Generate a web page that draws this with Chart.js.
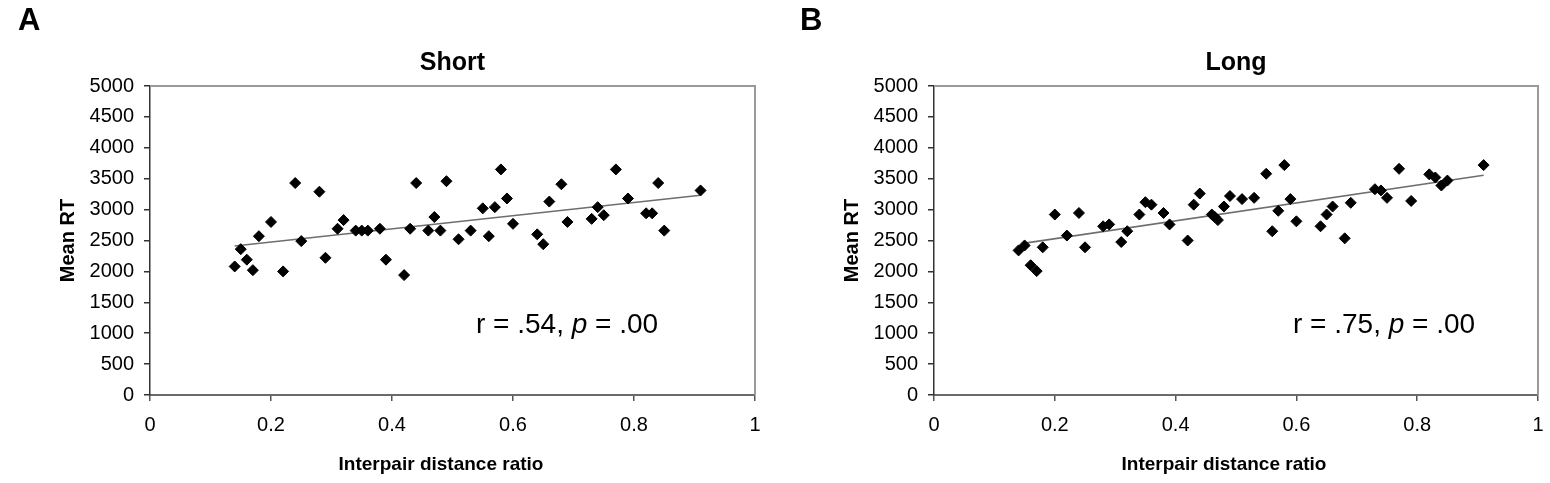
<!DOCTYPE html>
<html>
<head>
<meta charset="utf-8">
<script src="https://cdn.jsdelivr.net/npm/chart.js@4.4.1/dist/chart.umd.min.js"></script>
<style>
  body { margin: 0; background: #fff; }
  #wrap { position: relative; width: 1550px; height: 483px; }
  canvas { position: absolute; top: 0; }
</style>
</head>
<body>
<div id="wrap">
  <canvas id="short-chart" width="767" height="483" style="left:0px"></canvas>
  <canvas id="long-chart" width="766" height="483" style="left:784px"></canvas>
</div>
<script>
// Short condition (panel A)
const shortX = [0.14, 0.15, 0.16, 0.17, 0.18, 0.20, 0.22, 0.24, 0.25, 0.28, 0.29, 0.31, 0.32, 0.34, 0.35, 0.36,
  0.38, 0.39, 0.42, 0.43, 0.44, 0.46, 0.47, 0.48, 0.49, 0.51, 0.53, 0.55, 0.56, 0.57, 0.58, 0.59, 0.60,
  0.64, 0.65, 0.66, 0.68, 0.69, 0.73, 0.74, 0.75, 0.77, 0.79, 0.82, 0.83, 0.84, 0.85, 0.91];
const shortY = [2080, 2360, 2190, 2020, 2570, 2800, 2000, 3430, 2490, 3290, 2220, 2690, 2830, 2660, 2660, 2660,
  2690, 2190, 1940, 2690, 3430, 2660, 2880, 2660, 3460, 2520, 2660, 3020, 2570, 3040, 3650, 3180, 2770,
  2600, 2440, 3130, 3410, 2800, 2850, 3040, 2910, 3650, 3180, 2940, 2940, 3430, 2660, 3310];
const shortTrendX = [0.14, 0.91];
const shortTrendY = [2410, 3232];

// Long condition (panel B)
const longX = [0.14, 0.15, 0.16, 0.17, 0.18, 0.20, 0.22, 0.24, 0.25, 0.28, 0.29, 0.31, 0.32, 0.34, 0.35, 0.36,
  0.38, 0.39, 0.42, 0.43, 0.44, 0.46, 0.465, 0.47, 0.48, 0.49, 0.51, 0.53, 0.55, 0.56, 0.57, 0.58, 0.59, 0.60,
  0.64, 0.65, 0.66, 0.68, 0.69, 0.73, 0.74, 0.75, 0.77, 0.79, 0.82, 0.83, 0.84, 0.85, 0.91];
const longY = [2340, 2420, 2100, 2005, 2390, 2920, 2580, 2945, 2390, 2730, 2760, 2475, 2650, 2920, 3120, 3080,
  2945, 2760, 2500, 3080, 3260, 2920, 2880, 2830, 3050, 3220, 3170, 3190, 3580, 2650, 2980, 3720, 3170, 2810,
  2730, 2920, 3050, 2535, 3110, 3330, 3310, 3190, 3660, 3140, 3570, 3520, 3390, 3470, 3720];
const longTrendX = [0.145, 0.91];
const longTrendY = [2450, 3556];

const xTicks = [0, 0.2, 0.4, 0.6, 0.8, 1];
const yMax = 5000;
const yStep = 500;

const FONT = "'Liberation Sans', Arial, sans-serif";

function toPoints(xs, ys) {
  return xs.map((x, i) => ({ x: x, y: ys[i] }));
}

// Draws frame, panel letter, title, axis titles and the r/p note
const decorPlugin = {
  id: 'decor',
  afterDraw(chart, args, opts) {
    const ctx = chart.ctx;
    const a = chart.chartArea;
    ctx.save();

    // gray frame on top and right
    ctx.strokeStyle = '#9a9a9a';
    ctx.lineWidth = 2;
    ctx.beginPath();
    ctx.moveTo(a.left, a.top);
    ctx.lineTo(a.right, a.top);
    ctx.lineTo(a.right, a.bottom);
    ctx.stroke();

    ctx.fillStyle = '#000';
    ctx.textBaseline = 'alphabetic';

    // panel letter
    ctx.font = 'bold 31px ' + FONT;
    ctx.textAlign = 'left';
    ctx.fillText(opts.letter, opts.letterX, 30);

    // title
    ctx.font = 'bold 25px ' + FONT;
    ctx.textAlign = 'center';
    ctx.fillText(opts.title, (a.left + a.right) / 2, 70);

    // x axis title
    ctx.font = 'bold 19px ' + FONT;
    ctx.textBaseline = 'middle';
    ctx.fillText('Interpair distance ratio', opts.xTitleX, 465);

    // y axis title
    ctx.save();
    ctx.translate(68, (a.top + a.bottom) / 2);
    ctx.rotate(-Math.PI / 2);
    ctx.font = 'bold 20px ' + FONT;
    ctx.fillText('Mean RT', 0, 0);
    ctx.restore();

    // correlation note, p in italics
    ctx.textBaseline = 'alphabetic';
    ctx.textAlign = 'left';
    let x = opts.noteX;
    const parts = [['r = ' + opts.r + ', ', ''], ['p', 'italic '], [' = ' + opts.p, '']];
    parts.forEach(([txt, style]) => {
      ctx.font = style + '28px ' + FONT;
      ctx.fillText(txt, x, 333);
      x += ctx.measureText(txt).width;
    });

    ctx.restore();
  }
};

function makeChart(id, xs, ys, tx, ty, decor) {
  const ctx = document.getElementById(id).getContext('2d');
  return new Chart(ctx, {
    type: 'scatter',
    data: {
      datasets: [{
        data: toPoints(xs, ys),
        pointStyle: 'rectRot',
        pointRadius: 5.5,
        pointBackgroundColor: '#000',
        pointBorderColor: '#000',
        pointBorderWidth: 1
      }, {
        data: toPoints(tx, ty),
        showLine: true,
        borderColor: '#6e6e6e',
        borderWidth: 1.6,
        pointRadius: 0,
        fill: false
      }]
    },
    options: {
      responsive: false,
      devicePixelRatio: 1,
      animation: false,
      layout: { padding: { left: 0, top: 86, right: 12, bottom: 0 } },
      plugins: {
        legend: { display: false },
        tooltip: { enabled: false },
        decor: decor
      },
      scales: {
        x: {
          type: 'linear',
          min: 0,
          max: 1,
          afterBuildTicks: (scale) => { scale.ticks = xTicks.map(v => ({ value: v })); },
          afterFit: (scale) => { scale.height = 88; scale.paddingLeft = 0; scale.paddingRight = 0; },
          grid: { drawOnChartArea: false, tickLength: 6, color: '#555', lineWidth: 1.5 },
          border: { color: '#6a6a6a', width: 2 },
          ticks: {
            padding: 12,
            color: '#000',
            font: { family: FONT, size: 20 },
            callback: (v) => String(v)
          }
        },
        y: {
          min: 0,
          max: yMax,
          afterFit: (scale) => { scale.width = 150; scale.paddingTop = 0; scale.paddingBottom = 0; },
          grid: { drawOnChartArea: false, tickLength: 6, color: '#333', lineWidth: 1.5 },
          border: { color: '#333', width: 1.5 },
          ticks: {
            stepSize: yStep,
            padding: 10,
            color: '#000',
            font: { family: FONT, size: 20 },
            callback: (v) => String(v)
          }
        }
      }
    },
    plugins: [decorPlugin]
  });
}

makeChart('short-chart', shortX, shortY, shortTrendX, shortTrendY,
  { letter: 'A', letterX: 18, title: 'Short', xTitleX: 441, noteX: 476, r: '.54', p: '.00' });
makeChart('long-chart', longX, longY, longTrendX, longTrendY,
  { letter: 'B', letterX: 16, title: 'Long', xTitleX: 440, noteX: 509, r: '.75', p: '.00' });
</script>
</body>
</html>
